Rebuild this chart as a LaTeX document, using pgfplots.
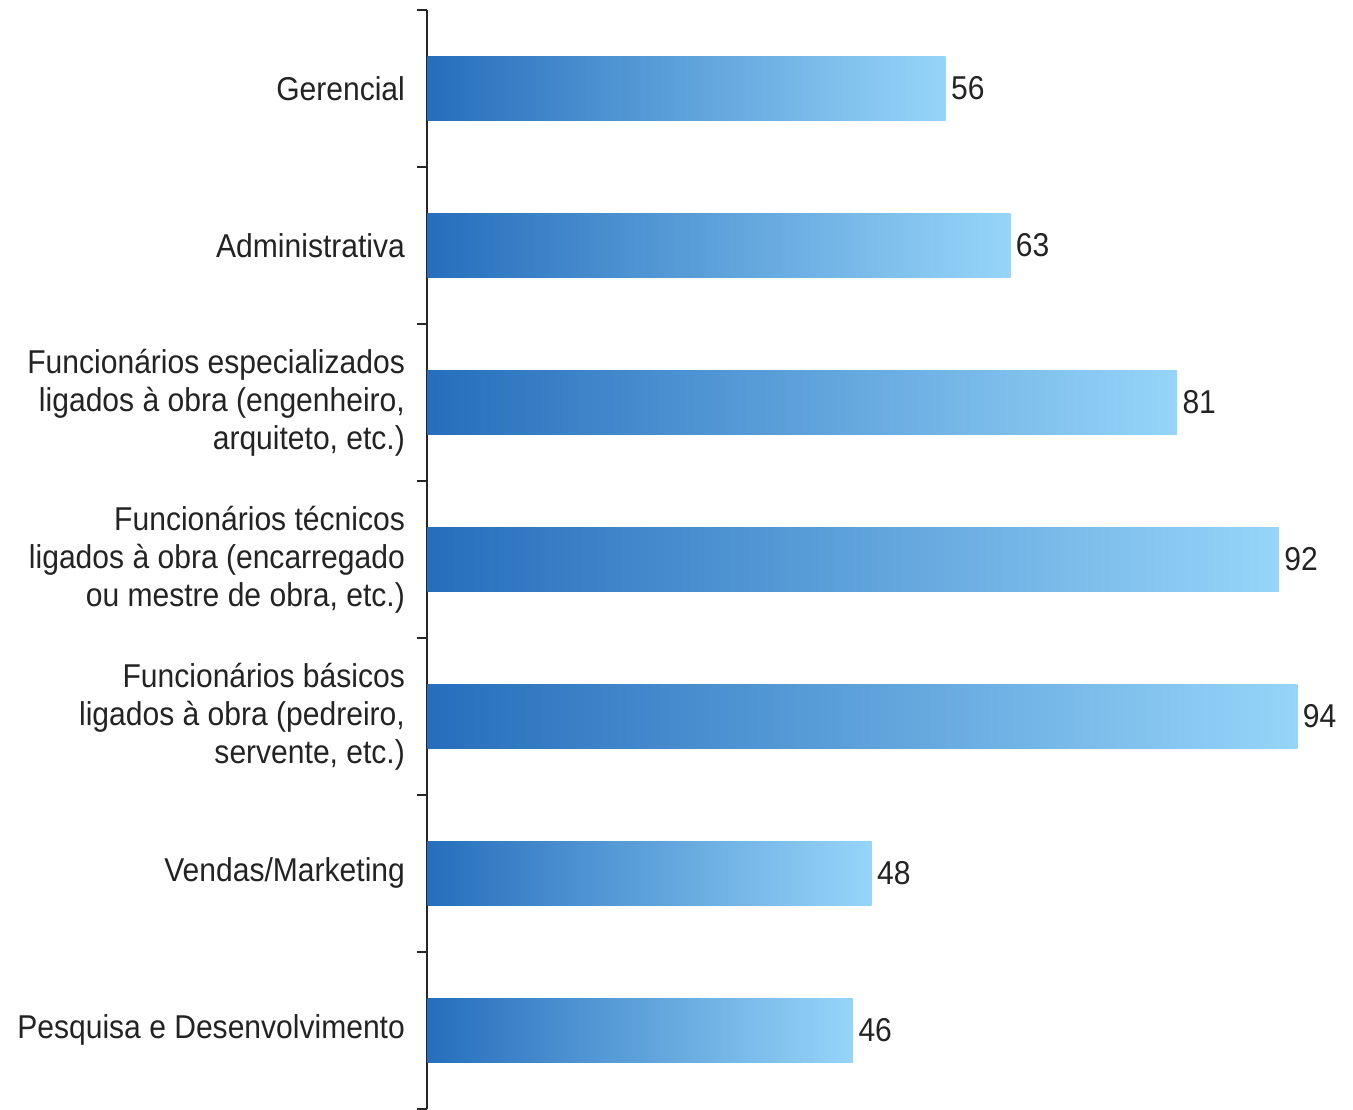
\documentclass[border=0pt]{standalone}
\usepackage{pgfplots}
\pgfplotsset{compat=1.18}
\usepackage{fontspec}
\setmainfont[FakeStretch=0.91]{Liberation Sans}
\definecolor{bardark}{RGB}{38,110,188}
\definecolor{barmid}{RGB}{70,148,218}
\definecolor{barlight}{RGB}{150,213,249}
\definecolor{txt}{RGB}{35,35,35}

\begin{document}
\begin{tikzpicture}
\begin{axis}[
    width=462.5pt, height=549pt, scale only axis,
    xmin=0, xmax=100,
    ymin=-0.5, ymax=6.5, y dir=reverse,
    hide x axis,
    axis y line*=left,
    y axis line style={line width=1pt, color=black!85},
    ytick={0,...,6},
    yticklabels={
        Gerencial,
        Administrativa,
        {Funcionários especializados\\ligados à obra (engenheiro,\\arquiteto, etc.)},
        {Funcionários técnicos\\ligados à obra (encarregado\\ou mestre de obra, etc.)},
        {Funcionários básicos\\ligados à obra (pedreiro,\\servente, etc.)},
        Vendas/Marketing,
        Pesquisa e Desenvolvimento},
    minor ytick={-0.5,0.5,...,6.5},
    major tick length=0pt,
    minor tick length=5pt,
    tick align=outside,
    minor tick style={line width=0.8pt, color=black!85},
    yticklabel style={align=right, font=\fontsize{16.5}{19}\selectfont,
        text=txt, inner sep=0pt, xshift=-11pt},
    xbar, bar width=0.41, bar shift=0pt,
    clip=false,
    /pgf/number format/assume math mode=true,
    nodes near coords,
    nodes near coords style={font=\fontsize{16.5}{19}\selectfont, text=txt,
        inner sep=2.5pt},
    barstyle/.style={draw=none, left color=bardark, middle color=barmid,
        right color=barlight},
]
% one plot per bar so that each bar gets its own gradient
\addplot[barstyle] coordinates {(56,0)};
\addplot[barstyle] coordinates {(63,1)};
\addplot[barstyle] coordinates {(81,2)};
\addplot[barstyle] coordinates {(92,3)};
\addplot[barstyle] coordinates {(94,4)};
\addplot[barstyle] coordinates {(48,5)};
\addplot[barstyle] coordinates {(46,6)};
\end{axis}
\path (current axis.north west) ++(-213.5pt,5pt);
\path (current axis.south east);
\end{tikzpicture}
\end{document}
